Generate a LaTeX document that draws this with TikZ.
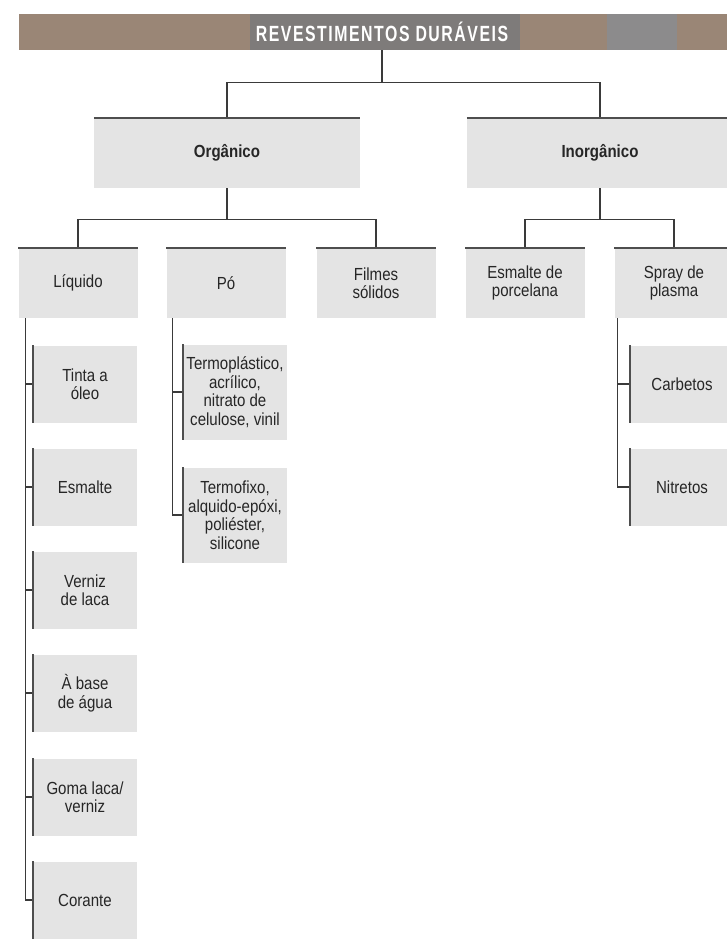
\documentclass[tikz,border=0pt]{standalone}
\usepackage{fontspec}
\setmainfont{Liberation Sans}[FakeStretch=0.86]
\newfontfamily\headfont{Liberation Sans}[FakeStretch=0.72,LetterSpace=7]
\definecolor{brownbar}{HTML}{9A8676}
\definecolor{graybar}{HTML}{8C8B8C}
\definecolor{darkbar}{HTML}{7E7B7A}
\definecolor{boxfill}{HTML}{E4E4E4}
\definecolor{linec}{HTML}{3A3A3A}
\definecolor{txt}{HTML}{262626}
\begin{document}
\begin{tikzpicture}[x=1pt,y=-1pt,
  box/.style={rectangle, fill=boxfill, inner sep=0pt, align=center, text=txt, font=\fontsize{17.5}{18.5}\selectfont},
  lvl1/.style={box, minimum width=266pt, minimum height=70pt, font=\fontsize{17.5}{18.5}\selectfont\bfseries},
  lvl2/.style={box, minimum width=119pt, minimum height=70pt},
  leaf/.style={box, minimum width=104pt, minimum height=77pt},
  tall/.style={leaf, minimum height=95pt},
  conn/.style={draw=linec, line width=1.3pt},
  edge/.style={draw=linec!90, line width=1.8pt},
]
\clip (0,0) rectangle (727,944);
\fill[white] (0,0) rectangle (727,944);
% header bar
\fill[brownbar] (19,14) rectangle (250,50);
\fill[darkbar] (250,14) rectangle (520,50);
\fill[brownbar] (520,14) rectangle (607,50);
\fill[graybar] (607,14) rectangle (677,50);
\fill[brownbar] (677,14) rectangle (745,50);
\node[inner sep=0pt, minimum width=726pt, minimum height=36pt, text=white] (head) at (382,32)
  {\headfont\bfseries\fontsize{22}{22}\selectfont REVESTIMENTOS DURÁVEIS};
% level 1
\node[lvl1] (org) at (227,153) {Orgânico};
\node[lvl1] (inorg) at (600,153) {Inorgânico};
% level 2
\node[lvl2] (liq) at (78,283) {Líquido};
\node[lvl2] (po) at (226,283) {Pó};
\node[lvl2] (fil) at (376,283) {Filmes\\sólidos};
\node[lvl2] (esm) at (525,283) {Esmalte de\\porcelana};
\node[lvl2] (spr) at (674,283) {Spray de\\plasma};
% leaves
\node[leaf] (l1) at (85,384) {Tinta a\\óleo};
\node[leaf] (l2) at (85,487) {Esmalte};
\node[leaf] (l3) at (85,590) {Verniz\\de laca};
\node[leaf] (l4) at (85,693) {À base\\de água};
\node[leaf] (l5) at (85,797) {Goma laca/\\verniz};
\node[leaf] (l6) at (85,900) {Corante};
\node[tall] (p1) at (235,392) {Termoplástico,\\acrílico,\\nitrato de\\celulose, vinil};
\node[tall] (p2) at (235,515) {Termofixo,\\alquido-epóxi,\\poliéster,\\silicone};
\node[leaf] (s1) at (682,384) {Carbetos};
\node[leaf] (s2) at (682,487) {Nitretos};
% connectors
\draw[conn] (head.south) -- ++(0,33);
\draw[conn] (org.north) -- ++(0,-35) -| (inorg.north);
\draw[conn] (org.south) -- ++(0,32);
\draw[conn] (liq.north) -- ++(0,-28) -| (fil.north);
\draw[conn] (inorg.south) -- ++(0,32);
\draw[conn] (esm.north) -- ++(0,-28) -| (spr.north);
\coordinate (ltr) at ([xshift=7pt]liq.south west);
\draw[conn] (ltr) |- (l6.west);
\foreach \n in {l1,l2,l3,l4,l5} \draw[conn] (ltr |- \n.west) -- (\n.west);
\coordinate (ptr) at ([xshift=6pt]po.south west);
\draw[conn] (ptr) |- (p2.west);
\draw[conn] (ptr |- p1.west) -- (p1.west);
\coordinate (str) at ([xshift=3pt]spr.south west);
\draw[conn] (str) |- (s2.west);
\draw[conn] (str |- s1.west) -- (s1.west);
% box edges
\foreach \n in {org,inorg,liq,po,fil,esm,spr} \draw[edge] (\n.north west) -- (\n.north east);
\foreach \n in {l1,l2,l3,l4,l5,l6,p1,p2,s1,s2} \draw[edge] (\n.north west) -- (\n.south west);
\end{tikzpicture}
\end{document}
